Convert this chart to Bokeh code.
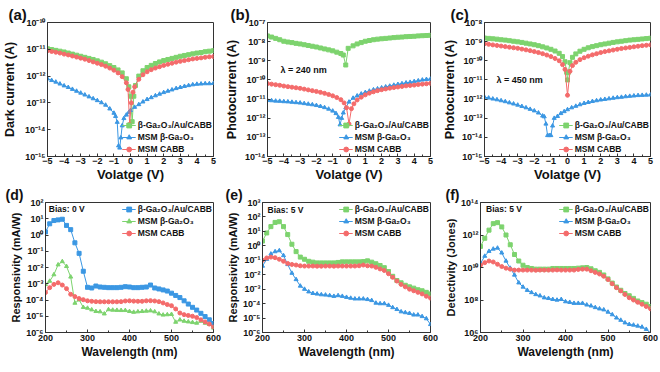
from bokeh.plotting import figure
from bokeh.layouts import column, row
from bokeh.models import Range1d, FixedTicker, CustomJSTickFormatter, Legend, LegendItem, Label, Title
from bokeh.embed import file_html
from bokeh.resources import INLINE

FONT = "Liberation Sans"
AX = "#333333"
GREEN = "#7DD36E"
BLUE = "#3B97E3"
RED = "#F46B6B"

LBL_AU = "β-Ga₂O₃/Au/CABB"
LBL_GA = "MSM β-Ga₂O₃"
LBL_CB = "MSM CABB"

# ---------------- (a) dark current: voltage (V) and log10(I / A) ----------------
a_au_v = [-5, -4.75, -4.5, -4.25, -4, -3.75, -3.5, -3.25, -3, -2.75, -2.5, -2.25, -2, -1.75, -1.5, -1.25, -1, -0.75, -0.5, -0.25,
          -0.1, 0, 0.1, 0.2, 0.3, 0.5, 0.75,
          1, 1.25, 1.5, 1.75, 2, 2.25, 2.5, 2.75, 3, 3.25, 3.5, 3.75, 4, 4.25, 4.5, 4.75, 5]
a_au_log = [-10.98, -11.01, -11.04, -11.07, -11.10, -11.14, -11.18, -11.22, -11.26, -11.30, -11.34, -11.38, -11.43, -11.48, -11.54, -11.61, -11.68, -11.77, -11.88, -12.10,
            -12.40, -12.75, -13.70, -12.75, -12.35, -12.00, -11.80,
            -11.68, -11.60, -11.53, -11.47, -11.42, -11.38, -11.34, -11.30, -11.26, -11.23, -11.20, -11.17, -11.14, -11.12, -11.09, -11.07, -11.05]
a_ga_v = [-5, -4.75, -4.5, -4.25, -4, -3.75, -3.5, -3.25, -3, -2.75, -2.5, -2.25, -2, -1.75, -1.5, -1.25, -1,
          -0.9, -0.8, -0.72, -0.65, -0.58, -0.5, -0.4, -0.25, -0.1,
          0, 0.25, 0.5, 0.75, 1, 1.25, 1.5, 1.75, 2, 2.25, 2.5, 2.75, 3, 3.25, 3.5, 3.75, 4, 4.25, 4.5, 4.75, 5]
a_ga_log = [-12.10, -12.16, -12.22, -12.29, -12.36, -12.42, -12.49, -12.56, -12.63, -12.70, -12.77, -12.84, -12.91, -12.99, -13.08, -13.22, -13.38,
            -13.50, -13.72, -14.60, -14.68, -14.30, -13.85, -13.58, -13.45, -13.35,
            -13.28, -13.16, -13.06, -12.96, -12.87, -12.80, -12.73, -12.67, -12.61, -12.56, -12.51, -12.46, -12.42, -12.38, -12.35, -12.32, -12.30, -12.29, -12.28, -12.28, -12.27]
a_cb_v = [-5, -4.75, -4.5, -4.25, -4, -3.75, -3.5, -3.25, -3, -2.75, -2.5, -2.25, -2, -1.75, -1.5, -1.25, -1, -0.75, -0.5, -0.25,
          -0.15, -0.05, 0.05, 0.15, 0.25, 0.5, 0.75,
          1, 1.25, 1.5, 1.75, 2, 2.25, 2.5, 2.75, 3, 3.25, 3.5, 3.75, 4, 4.25, 4.5, 4.75, 5]
a_cb_log = [-11.05, -11.08, -11.11, -11.14, -11.18, -11.21, -11.25, -11.29, -11.33, -11.37, -11.42, -11.47, -11.52, -11.57, -11.63, -11.70, -11.78, -11.88, -12.02, -12.25,
            -12.50, -13.80, -13.00, -12.60, -12.40, -12.12, -11.95,
            -11.84, -11.76, -11.70, -11.65, -11.60, -11.56, -11.52, -11.48, -11.45, -11.42, -11.39, -11.36, -11.34, -11.32, -11.30, -11.28, -11.27]

# ---------------- (b) photocurrent at 240 nm ----------------
b_au_v = [-5, -4.75, -4.5, -4.25, -4, -3.75, -3.5, -3.25, -3, -2.75, -2.5, -2.25, -2, -1.75, -1.5, -1.25, -1, -0.75, -0.5,
          -0.35, -0.2, -0.05,
          0.25, 0.5, 0.75, 1, 1.25, 1.5, 1.75, 2, 2.25, 2.5, 2.75, 3, 3.25, 3.5, 3.75, 4, 4.25, 4.5, 4.75, 5]
b_au_log = [-7.70, -7.76, -7.83, -7.90, -7.98, -8.02, -8.05, -8.09, -8.12, -8.16, -8.20, -8.24, -8.28, -8.33, -8.38, -8.43, -8.48, -8.55, -8.62,
            -8.70, -9.22, -8.35,
            -8.22, -8.12, -8.05, -7.98, -7.94, -7.90, -7.87, -7.85, -7.83, -7.81, -7.79, -7.77, -7.76, -7.74, -7.73, -7.72, -7.70, -7.69, -7.68, -7.67]
b_ga_v = [-5, -4.75, -4.5, -4.25, -4, -3.75, -3.5, -3.25, -3, -2.75, -2.5, -2.25, -2, -1.75, -1.5, -1.25, -1,
          -0.8, -0.65, -0.55, -0.45, -0.35, -0.2,
          0, 0.25, 0.5, 0.75, 1, 1.25, 1.5, 1.75, 2, 2.25, 2.5, 2.75, 3, 3.25, 3.5, 3.75, 4, 4.25, 4.5, 4.75, 5]
b_ga_log = [-11.07, -11.08, -11.10, -11.11, -11.13, -11.14, -11.16, -11.18, -11.20, -11.23, -11.26, -11.29, -11.33, -11.38, -11.44, -11.52, -11.62,
            -11.75, -11.95, -12.34, -12.00, -11.72, -11.45,
            -11.15, -10.95, -10.83, -10.73, -10.65, -10.58, -10.51, -10.46, -10.41, -10.36, -10.32, -10.27, -10.23, -10.19, -10.15, -10.12, -10.08, -10.04, -10.00, -9.97, -9.95]
b_cb_v = [-5, -4.75, -4.5, -4.25, -4, -3.75, -3.5, -3.25, -3, -2.75, -2.5, -2.25, -2, -1.75, -1.5, -1.25, -1, -0.75, -0.5,
          -0.3, -0.15, 0, 0.15, 0.3,
          0.5, 0.75, 1, 1.25, 1.5, 1.75, 2, 2.25, 2.5, 2.75, 3, 3.25, 3.5, 3.75, 4, 4.25, 4.5, 4.75, 5]
b_cb_log = [-10.19, -10.22, -10.25, -10.28, -10.32, -10.35, -10.38, -10.41, -10.44, -10.48, -10.52, -10.56, -10.60, -10.65, -10.70, -10.76, -10.83, -10.92, -11.03,
            -11.20, -11.45, -12.30, -11.50, -11.25,
            -11.05, -10.90, -10.78, -10.69, -10.62, -10.56, -10.51, -10.47, -10.43, -10.40, -10.37, -10.34, -10.31, -10.29, -10.27, -10.24, -10.22, -10.20, -10.18]

# ---------------- (c) photocurrent at 450 nm ----------------
c_au_v = [-5, -4.75, -4.5, -4.25, -4, -3.75, -3.5, -3.25, -3, -2.75, -2.5, -2.25, -2, -1.75, -1.5, -1.25, -1, -0.75, -0.5,
          -0.3, -0.15, -0.05, 0, 0.05, 0.15, 0.3,
          0.5, 0.75, 1, 1.25, 1.5, 1.75, 2, 2.25, 2.5, 2.75, 3, 3.25, 3.5, 3.75, 4, 4.25, 4.5, 4.75, 5]
c_au_log = [-8.81, -8.83, -8.85, -8.87, -8.90, -8.92, -8.95, -8.98, -9.01, -9.04, -9.08, -9.12, -9.16, -9.21, -9.27, -9.33, -9.40, -9.49, -9.61,
            -9.78, -10.05, -10.60, -11.00, -10.60, -10.10, -9.82,
            -9.64, -9.50, -9.40, -9.32, -9.26, -9.21, -9.16, -9.12, -9.08, -9.04, -9.01, -8.98, -8.95, -8.92, -8.90, -8.88, -8.86, -8.84, -8.82]
c_ga_v = [-5, -4.75, -4.5, -4.25, -4, -3.75, -3.5, -3.25, -3, -2.75, -2.5, -2.25, -2, -1.75, -1.5,
          -1.4, -1.3, -1.2, -1.1, -1.0, -0.9, -0.8, -0.6, -0.4, -0.2,
          0, 0.25, 0.5, 0.75, 1, 1.25, 1.5, 1.75, 2, 2.25, 2.5, 2.75, 3, 3.25, 3.5, 3.75, 4, 4.25, 4.5, 4.75, 5]
c_ga_log = [-11.90, -11.94, -11.99, -12.03, -12.08, -12.13, -12.19, -12.25, -12.31, -12.38, -12.45, -12.53, -12.61, -12.72, -12.88,
            -12.92, -13.30, -13.90, -13.90, -13.90, -13.40, -13.00, -12.90, -12.75, -12.65,
            -12.55, -12.45, -12.37, -12.29, -12.22, -12.17, -12.12, -12.08, -12.04, -12.01, -11.98, -11.95, -11.92, -11.90, -11.87, -11.85, -11.83, -11.81, -11.80, -11.79, -11.78]
c_cb_v = [-5, -4.75, -4.5, -4.25, -4, -3.75, -3.5, -3.25, -3, -2.75, -2.5, -2.25, -2, -1.75, -1.5, -1.25, -1, -0.75, -0.5,
          -0.3, -0.15, 0, 0.15, 0.3,
          0.5, 0.75, 1, 1.25, 1.5, 1.75, 2, 2.25, 2.5, 2.75, 3, 3.25, 3.5, 3.75, 4, 4.25, 4.5, 4.75, 5]
c_cb_log = [-9.11, -9.14, -9.17, -9.20, -9.23, -9.26, -9.29, -9.32, -9.35, -9.39, -9.43, -9.47, -9.52, -9.57, -9.63, -9.70, -9.78, -9.88, -10.00,
            -10.20, -10.45, -11.80, -10.55, -10.25,
            -10.08, -9.94, -9.84, -9.76, -9.69, -9.63, -9.57, -9.52, -9.48, -9.44, -9.40, -9.36, -9.33, -9.30, -9.27, -9.24, -9.21, -9.19, -9.17]

# ---------------- spectra: wavelength (nm) ----------------
wl = [200, 210, 220, 230, 240, 250, 260, 270, 280, 290, 300, 310, 320, 330, 340, 350, 360, 370, 380, 390, 400,
      410, 420, 430, 440, 450, 460, 470, 480, 490, 500, 510, 520, 530, 540, 550, 560, 570, 580, 590, 600]

# (d) responsivity at 0 V, log10(mA/W)
d_au_log = [0.19, 0.69, 0.89, 0.93, 0.97, 0.59, 0.33, -0.48, -1.13, -2.23, -3.22,
            -3.26, -3.14, -3.20, -3.22, -3.24, -3.24, -3.24, -3.22, -3.18, -3.20,
            -3.24, -3.24, -3.22, -3.20, -3.08, -3.26, -3.32, -3.38, -3.45, -3.58,
            -3.72, -3.85, -4.05, -4.25, -4.45, -4.62, -4.82, -5.02, -5.22, -5.45]
d_ga_log = [-3.04, -2.84, -2.44, -1.83, -1.63, -1.93, -2.58, -4.19, -3.99, -4.45, -4.50,
            -4.60, -4.70, -4.72, -4.85, -4.59, -4.62, -4.63, -4.64, -4.64, -4.70,
            -4.75, -4.72, -4.70, -4.68, -4.66, -4.72, -4.85, -4.92, -4.90, -4.88,
            -5.36, -5.22, -5.30, -5.34, -5.38, -5.42, -5.30, -5.42, -5.50, -5.72]
d_cb_log = [-3.54, -3.24, -3.04, -2.94, -3.08, -3.30, -3.65, -3.79, -3.91, -3.98, -4.05,
            -4.08, -4.10, -4.11, -4.11, -4.11, -4.11, -4.11, -4.10, -4.06, -4.05,
            -4.07, -4.08, -4.08, -4.05, -4.04, -4.06, -4.10, -4.18, -4.28, -4.35,
            -4.55, -4.80, -4.90, -4.95, -5.00, -5.08, -5.22, -5.35, -5.48, -5.66]

# (e) responsivity at 5 V, log10(mA/W)
e_au_log = [0.33, 0.89, 1.33, 1.62, 1.67, 1.33, 0.78, 0.11, -0.40, -0.78, -0.93,
            -1.07, -1.13, -1.18, -1.18, -1.18, -1.18, -1.18, -1.15, -1.11, -1.11,
            -1.11, -1.11, -1.11, -1.09, -1.04, -1.13, -1.24, -1.36, -1.51, -1.78,
            -2.11, -2.40, -2.56, -2.73, -2.84, -2.93, -3.04, -3.11, -3.22, -3.33]
e_ga_log = [-1.40, -0.93, -0.56, -0.40, -0.33, -0.67, -1.29, -1.89, -2.33, -2.78, -3.00,
            -3.18, -3.29, -3.33, -3.38, -3.40, -3.44, -3.49, -3.44, -3.49, -3.56,
            -3.62, -3.67, -3.67, -3.67, -3.71, -3.78, -3.96, -4.00, -4.00, -4.11,
            -4.27, -4.40, -4.56, -4.62, -4.67, -4.78, -4.78, -4.89, -5.04, -5.44]
e_cb_log = [-1.00, -0.84, -0.78, -0.82, -0.93, -1.07, -1.22, -1.29, -1.33, -1.38, -1.40,
            -1.40, -1.40, -1.41, -1.41, -1.40, -1.40, -1.41, -1.40, -1.40, -1.40,
            -1.40, -1.40, -1.38, -1.33, -1.38, -1.40, -1.49, -1.60, -1.71, -1.93,
            -2.18, -2.44, -2.67, -2.84, -3.00, -3.11, -3.22, -3.33, -3.49, -3.62]

# (f) detectivity at 5 V, log10(Jones)
f_au_log = [11.30, 11.80, 12.30, 12.70, 12.76, 12.50, 12.00, 11.40, 10.80, 10.40, 10.14,
            10.00, 9.94, 9.90, 9.90, 9.90, 9.90, 9.94, 9.94, 9.94, 9.94,
            9.94, 9.94, 9.96, 9.98, 10.00, 9.92, 9.80, 9.70, 9.54, 9.30,
            9.04, 8.80, 8.60, 8.40, 8.26, 8.10, 7.94, 7.84, 7.74, 7.60]
f_ga_log = [10.26, 10.70, 11.00, 11.14, 11.20, 10.90, 10.40, 9.96, 9.54, 9.06, 8.80,
            8.60, 8.46, 8.34, 8.26, 8.14, 8.10, 8.04, 8.00, 8.04, 7.90,
            7.86, 7.80, 7.80, 7.80, 7.70, 7.64, 7.54, 7.46, 7.40, 7.26,
            7.10, 6.90, 6.76, 6.60, 6.50, 6.46, 6.40, 6.34, 6.20, 5.96]
f_cb_log = [10.14, 10.30, 10.40, 10.34, 10.20, 10.06, 9.96, 9.90, 9.84, 9.84, 9.84,
            9.84, 9.84, 9.83, 9.84, 9.84, 9.84, 9.84, 9.85, 9.84, 9.84,
            9.84, 9.84, 9.88, 9.90, 9.90, 9.80, 9.70, 9.60, 9.46, 9.26,
            9.00, 8.76, 8.56, 8.34, 8.14, 8.00, 7.86, 7.74, 7.60, 7.46]

volt_ticks = [-5, -4, -3, -2, -1, 0, 1, 2, 3, 4, 5]
volt_minor = [-4.5, -3.5, -2.5, -1.5, -0.5, 0.5, 1.5, 2.5, 3.5, 4.5]
wl_ticks = [200, 300, 400, 500, 600]
wl_minor = [250, 350, 450, 550]

SUP_JS = """
const e = Math.round(Math.log10(tick));
const m = {"-": "\u207b", "0": "\u2070", "1": "\u00b9", "2": "\u00b2", "3": "\u00b3", "4": "\u2074",
           "5": "\u2075", "6": "\u2076", "7": "\u2077", "8": "\u2078", "9": "\u2079"};
let s = "";
for (const c of String(e)) { s += m[c]; }
return "10" + s;
"""


def pw(vals):
    return [10.0 ** v for v in vals]


def make(width, height, bl, br, bt, bb, xr, ye, ytick_exp, xticks, xminor, xlabel, ylabel,
         ylab_size, xlab_size, ylab_standoff, tag, tag_size, tag_dx, xlab_standoff, xtick_standoff):
    p = figure(width=width, height=height, x_range=Range1d(*xr),
               y_range=Range1d(10.0 ** ye[0], 10.0 ** ye[1]), y_axis_type="log",
               output_backend="svg", toolbar_location=None,
               min_border_left=bl, min_border_right=br, min_border_top=bt, min_border_bottom=bb)
    p.xgrid.visible = False
    p.ygrid.visible = False
    p.outline_line_color = AX
    p.outline_line_width = 1
    p.border_fill_color = "white"
    xa = p.xaxis[0]
    ya = p.yaxis[0]
    xa.ticker = FixedTicker(ticks=xticks, minor_ticks=xminor)
    ya.ticker = FixedTicker(ticks=[10.0 ** k for k in ytick_exp])
    ya.formatter = CustomJSTickFormatter(code=SUP_JS)
    for ax in (xa, ya):
        ax.axis_line_color = AX
        ax.major_tick_line_color = AX
        ax.minor_tick_line_color = AX
        ax.major_tick_in = 3
        ax.major_tick_out = 0
        ax.minor_tick_in = 2
        ax.minor_tick_out = 0
        ax.major_label_text_font = FONT
        ax.major_label_text_font_style = "bold"
        ax.major_label_text_color = "#111111"
        ax.major_label_standoff = 2
        ax.axis_label_text_font = FONT
        ax.axis_label_text_font_style = "bold"
        ax.axis_label_text_color = "#111111"
    xa.major_label_standoff = xtick_standoff
    xa.major_label_text_font_size = "9px"
    ya.major_label_text_font_size = "9px"
    xa.axis_label = xlabel
    ya.axis_label = ylabel
    xa.axis_label_text_font_size = xlab_size
    ya.axis_label_text_font_size = ylab_size
    xa.axis_label_standoff = xlab_standoff
    ya.axis_label_standoff = ylab_standoff
    p.add_layout(Title(text=tag, align="left", offset=tag_dx, standoff=0,
                       text_font=FONT, text_font_style="bold", text_font_size=tag_size,
                       text_color="#111111", vertical_align="bottom"), "above")
    return p


def add_series(p, x, logy, color, marker, size):
    y = pw(logy)
    ln = p.line(x, y, line_color=color, line_width=1)
    sc = p.scatter(x, y, marker=marker, size=size, fill_color=color, line_color=color)
    return [ln, sc]


def add_legend(p, items, loc):
    leg = Legend(items=[LegendItem(label=l, renderers=r) for l, r in items],
                 location=loc, margin=1, padding=0, spacing=0,
                 label_height=12, glyph_height=12, glyph_width=14, label_standoff=2,
                 background_fill_alpha=0, border_line_alpha=0,
                 label_text_font=FONT, label_text_font_style="bold",
                 label_text_font_size="8.5px", label_text_color="#111111")
    p.add_layout(leg)


def note(p, x, y, text, size):
    p.add_layout(Label(x=x, y=y, text=text, text_font=FONT, text_font_style="bold",
                       text_font_size=size, text_color="#111111",
                       text_baseline="middle", text_align="left"))


H1, H2 = 184, 187
MS = 4

# (a)
pa = make(222, H1, 45, 9, 22, 27, (-5, 5), (-15, -10), range(-15, -9), volt_ticks, volt_minor,
          "Volatge (V)", "Dark current (A)", "12.5px", "13px", 5, "(a)", "15px", -39, 0, 1)
ra_au = add_series(pa, a_au_v, a_au_log, GREEN, "square", MS)
ra_ga = add_series(pa, a_ga_v, a_ga_log, BLUE, "triangle", MS)
ra_cb = add_series(pa, a_cb_v, a_cb_log, RED, "circle", MS)
add_legend(pa, [(LBL_AU, ra_au), (LBL_GA, ra_ga), (LBL_CB, ra_cb)], "bottom_right")

# (b)
pb = make(218, H1, 40, 10, 22, 27, (-5, 5), (-14, -7), range(-14, -6), volt_ticks, volt_minor,
          "Volatge (V)", "Photocurrent (A)", "12.5px", "13px", 3, "(b)", "15px", -37, 0, 1)
rb_au = add_series(pb, b_au_v, b_au_log, GREEN, "square", MS)
rb_ga = add_series(pb, b_ga_v, b_ga_log, BLUE, "triangle", MS)
rb_cb = add_series(pb, b_cb_v, b_cb_log, RED, "circle", MS)
add_legend(pb, [(LBL_AU, rb_au), (LBL_GA, rb_ga), (LBL_CB, rb_cb)], "bottom_right")
note(pb, -4.2, 10.0 ** -9.5, "λ = 240 nm", "9px")

# (c)
pc = make(219, H1, 39, 9, 22, 27, (-5, 5), (-15, -8), range(-15, -7), volt_ticks, volt_minor,
          "Volatge (V)", "Photocurrent (A)", "12.5px", "13px", 2, "(c)", "15px", -34, 0, 1)
rc_au = add_series(pc, c_au_v, c_au_log, GREEN, "square", MS)
rc_ga = add_series(pc, c_ga_v, c_ga_log, BLUE, "triangle", MS)
rc_cb = add_series(pc, c_cb_v, c_cb_log, RED, "circle", MS)
add_legend(pc, [(LBL_AU, rc_au), (LBL_GA, rc_ga), (LBL_CB, rc_cb)], "bottom_right")
note(pc, -4.28, 10.0 ** -11, "λ = 450 nm", "9px")

# (d)
pd = make(222, H2, 45, 9, 14, 39, (200, 600), (-6, 2), range(-6, 3), wl_ticks, wl_minor,
          "Wavelength (nm)", "Responsivity (mA/W)", "11px", "12px", 1, "(d)", "14px", -40, 1, 2)
rd_au = add_series(pd, wl, d_au_log, BLUE, "square", MS)
rd_ga = add_series(pd, wl, d_ga_log, GREEN, "triangle", MS)
rd_cb = add_series(pd, wl, d_cb_log, RED, "circle", MS)
add_legend(pd, [(LBL_AU, rd_au), (LBL_GA, rd_ga), (LBL_CB, rd_cb)], "top_right")
note(pd, 208, 10.0 ** 1.6, "Bias: 0 V", "8.5px")

# (e)
pe = make(218, H2, 40, 10, 14, 39, (200, 600), (-6, 3), range(-6, 4), wl_ticks, wl_minor,
          "Wavelength (nm)", "Responsivity (mA/W)", "11px", "12px", 1, "(e)", "14px", -37, 1, 2)
re_au = add_series(pe, wl, e_au_log, GREEN, "square", MS)
re_ga = add_series(pe, wl, e_ga_log, BLUE, "triangle", MS)
re_cb = add_series(pe, wl, e_cb_log, RED, "circle", MS)
add_legend(pe, [(LBL_AU, re_au), (LBL_GA, re_ga), (LBL_CB, re_cb)], "top_right")
note(pe, 212, 10.0 ** 2.49, "Bias: 5 V", "8.5px")

# (f)
pf = make(219, H2, 40, 9, 14, 39, (200, 600), (6, 14), [6, 8, 10, 12, 14], wl_ticks, wl_minor,
          "Wavelength (nm)", "Detectivity (Jones)", "11px", "12px", 1, "(f)", "14px", -35, 1, 2)
rf_au = add_series(pf, wl, f_au_log, GREEN, "square", MS)
rf_ga = add_series(pf, wl, f_ga_log, BLUE, "triangle", MS)
rf_cb = add_series(pf, wl, f_cb_log, RED, "circle", MS)
add_legend(pf, [(LBL_AU, rf_au), (LBL_GA, rf_ga), (LBL_CB, rf_cb)], "top_right")
note(pf, 213, 10.0 ** 13.6, "Bias: 5 V", "8.5px")

layout = column(row(pa, pb, pc), row(pd, pe, pf))

with open("out.html", "w") as fh:
    fh.write(file_html(layout, INLINE))
